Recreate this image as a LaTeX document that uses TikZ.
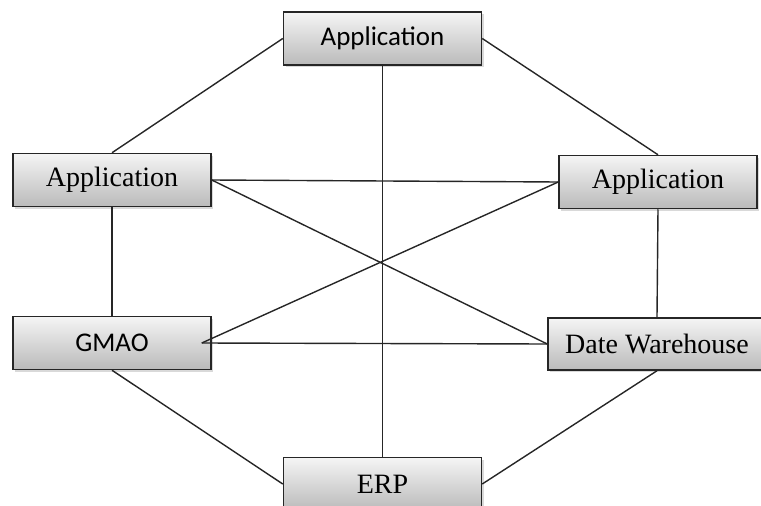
\documentclass[tikz,border=0pt]{standalone}
\usepackage{fontspec}
\setmainfont{Liberation Serif}
\newfontfamily\appsans{Carlito}
\usetikzlibrary{shadows}

\begin{document}
\begin{tikzpicture}[x = 1pt, y = -1pt]
		\tikzset{box/.style = {draw = black!85, line width = 1.5pt, minimum width = 198pt, minimum height = 53pt, inner sep = 0pt, top color = black!4, bottom color = black!27, drop shadow = {opacity = 0.3, shadow xshift = 2pt, shadow yshift = -2pt}, font = \fontsize{28}{30}\selectfont}}
		\tikzset{link/.style = {black!85, line width = 1.4pt}}
		\useasboundingbox (0,0) rectangle (761,506);
		\node[box, font = \appsans\fontsize{27}{30}\selectfont] (T) at (382.5,38.5){Application};
		\node[box] (L) at (112,180){Application};
		\node[box] (R) at (658,182){Application};
		\node[box, font = \appsans\fontsize{27}{30}\selectfont] (G) at (112,343){GMAO};
		\node[box, minimum width = 218pt, minimum height = 52pt] (D) at (657,344){Date Warehouse};
		\node[box] (E) at (382.5,484){ERP};
		\draw[link] (T.west) -- (L.north);
		\draw[link] (T.east) -- (R.north);
		\draw[link] (T.south) -- (E.north);
		\draw[link] (L.east) -- (R.west);
		\draw[link] (L.east) -- (D.west);
		\draw[link] (L.south) -- (G.north);
		\draw[link] (R.south) -- (D.north);
		\draw[link] ([xshift = -10pt]G.east) -- (R.west);
		\draw[link] ([xshift = -10pt]G.east) -- (D.west);
		\draw[link] (G.south) -- (E.west);
		\draw[link] (E.east) -- (D.south);
	\end{tikzpicture}
\end{document}
